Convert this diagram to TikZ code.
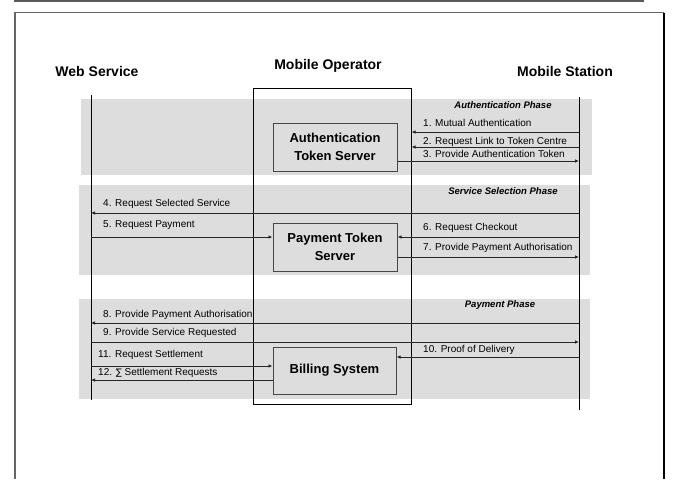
\documentclass[tikz,border=0pt]{standalone}
\usepackage{fontspec}
\setmainfont{Liberation Sans}
\newfontfamily\symfnt{DejaVu Sans}
\usetikzlibrary{arrows.meta}
\definecolor{band}{RGB}{221,221,221}
\definecolor{edge}{RGB}{70,70,70}
\begin{document}
\begin{tikzpicture}[x=1pt,y=-1pt,
  phaseband/.style={fill=band,draw=none},
  lifeline/.style={draw=black,line width=1pt},
  boxnode/.style={draw=edge,line width=1pt,inner sep=0pt,align=center,
    font=\fontsize{13}{17.5}\selectfont\bfseries},
  header/.style={font=\fontsize{14}{16}\selectfont\bfseries,inner sep=0pt},
  phaselabel/.style={font=\fontsize{9.5}{11}\selectfont\bfseries\itshape,inner sep=0pt},
  msglabel/.style={font=\fontsize{10}{12}\selectfont,inner sep=0pt,anchor=west},
  msg/.style={draw=black!85,line width=0.8pt,-{Latex[length=4pt,width=3.5pt]}}
]
\useasboundingbox (0,0) rectangle (674,479);
% page frame
\draw[line width=2pt,black!65] (14,1) -- (644,1);
\draw[line width=1.5pt,black!60] (14.8,479) -- (14.8,12.5) -- (664,12.5);
\draw[line width=1.6pt,black] (664,12.5) -- (664,479);
% phase bands
\path[phaseband] (81,99) rectangle (592,175);
\path[phaseband] (79,185) rectangle (590,275);
\path[phaseband] (79,299) rectangle (590,399);
% headers
\node[header] (hws) at (97,71) {Web Service};
\node[header] (hmo) at (328,66) {Mobile Operator};
\node[header] (hms) at (565,71) {Mobile Station};
% lifelines
\coordinate (wsT) at (91,95);
\coordinate (wsB) at (91,400);
\coordinate (msT) at (579,97);
\coordinate (msB) at (579,410);
\draw[lifeline] (wsT) -- (wsB);
\draw[lifeline] (msT) -- (msB);
% operator box
\node[draw=black,line width=1pt,minimum width=158pt,minimum height=316pt,inner sep=0pt] (opbox) at (332,246) {};
% inner boxes
\node[boxnode,minimum width=124pt,minimum height=48pt] (auth) at (335,147) {Authentication\\Token Server};
\node[boxnode,minimum width=124pt,minimum height=48pt] (pay) at (335,247) {Payment Token\\Server};
\node[boxnode,minimum width=123pt,minimum height=47pt] (bill) at (334.5,370.5) {Billing System};
% phase labels
\node[phaselabel] (p1) at (503,105) {Authentication Phase};
\node[phaselabel] (p2) at (503,191) {Service Selection Phase};
\node[phaselabel] (p3) at (500,305) {Payment Phase};
% message anchors
\coordinate (m1) at (579,132);
\coordinate (m2) at (579,147);
\coordinate (m3) at (579,161);
\coordinate (m4) at (579,213);
\coordinate (w5) at (91,237);
\coordinate (m6) at (579,237);
\coordinate (m7) at (579,257);
\coordinate (m8) at (579,323);
\coordinate (w9) at (91,342);
\coordinate (m10) at (579,357);
\coordinate (w11) at (91,366);
\coordinate (w12) at (91,380);
% messages
\draw[msg] (m1) -- (m1 -| opbox.east);
\draw[msg] (m2) -- (m2 -| opbox.east);
\draw[msg] (m3 -| auth.east) -- (m3);
\draw[msg] (m4) -- (m4 -| wsT);
\draw[msg] (w5) -- (w5 -| pay.west);
\draw[msg] (m6) -- (m6 -| pay.east);
\draw[msg] (m7 -| pay.east) -- (m7);
\draw[msg] (m8) -- (m8 -| wsT);
\draw[msg] (w9) -- (w9 -| msT);
\draw[msg] (m10) -- (m10 -| bill.east);
\draw[msg] (w11) -- (w11 -| bill.west);
\draw[msg] (w12 -| bill.west) -- (w12);
% message labels
\node[msglabel] (l1) at (423,123) {1. Mutual Authentication};
\node[msglabel] (l2) at (423,142) {2. Request Link to Token Centre};
\node[msglabel] (l3) at (423,154) {3. Provide Authentication Token};
\node[msglabel] (l4) at (103,204) {4. Request Selected Service};
\node[msglabel] (l5) at (103,225) {5. Request Payment};
\node[msglabel] (l6) at (423,228) {6. Request Checkout};
\node[msglabel] (l7) at (423,248) {7. Provide Payment Authorisation};
\node[msglabel] (l8) at (103,315) {8. Provide Payment Authorisation};
\node[msglabel] (l9) at (103,333) {9. Provide Service Requested};
\node[msglabel] (l10) at (423,350) {10. Proof of Delivery};
\node[msglabel] (l11) at (98,355) {11. Request Settlement};
\node[msglabel] (l12) at (98,373) {12. {\symfnt\fontsize{9}{11}\selectfont ∑} Settlement Requests};
\end{tikzpicture}
\end{document}
